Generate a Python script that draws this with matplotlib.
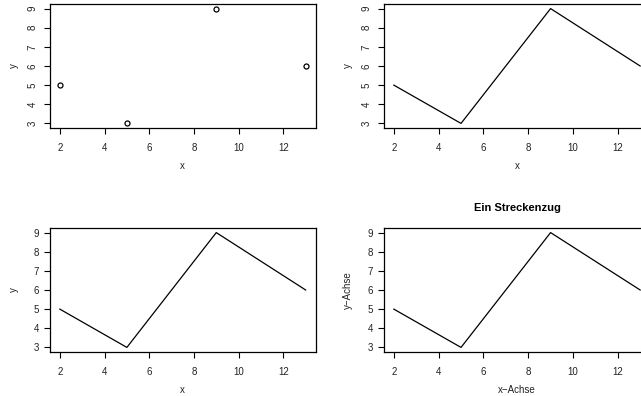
import matplotlib
matplotlib.use("Agg")
import matplotlib.pyplot as plt

x = [2, 5, 9, 13]
y = [5, 3, 9, 6]
x_ticks = [2, 4, 6, 8, 10, 12]
y_ticks = [3, 4, 5, 6, 7, 8, 9]

plt.rcParams['font.family'] = ['Liberation Sans', 'DejaVu Sans']
plt.rcParams['font.size'] = 7

W, H = 641, 396
fig = plt.figure(figsize=(W / 100, H / 100), dpi=100)


def panel(left, top, right, bottom):
    return fig.add_axes([left / W, 1 - bottom / H, (right - left) / W, (bottom - top) / H])


def style(ax, rotated_y, xlabel, ylabel):
    pad_x = 0.04 * (max(x) - min(x))
    pad_y = 0.04 * (max(y) - min(y))
    ax.set_xlim(min(x) - pad_x, max(x) + pad_x)
    ax.set_ylim(min(y) - pad_y, max(y) + pad_y)
    ax.set_xticks(x_ticks)
    ax.set_yticks(y_ticks)
    for s in ax.spines.values():
        s.set_linewidth(0.9)
        s.set_color('black')
    ax.tick_params(direction='out', length=4.3, width=0.8, color='black',
                   labelcolor='#222222')
    ax.tick_params(axis='x', pad=6.5)
    if rotated_y:
        ax.tick_params(axis='y', labelrotation=90, pad=4.5)
        for lab in ax.get_yticklabels():
            lab.set_va('center')
    else:
        ax.tick_params(axis='y', pad=3.5)
    ax.set_xlabel(xlabel, color='#222222')
    ax.set_ylabel(ylabel, color='#222222')
    ax.xaxis.set_label_coords(0.5, -0.265)
    ax.yaxis.set_label_coords(-0.118, 0.5)


# top left: points only
ax1 = panel(50, 4, 315.5, 128)
ax1.plot(x, y, linestyle='none', marker='o', markersize=3.6,
         markerfacecolor='none', markeredgecolor='black', markeredgewidth=0.9)
style(ax1, True, 'x', 'y')

# top right: polyline
ax2 = panel(384, 4, 650, 128)
ax2.plot(x, y, color='black', linewidth=0.9)
style(ax2, True, 'x', 'y')

# bottom left: polyline with horizontal y labels
ax3 = panel(50, 228, 315.5, 352)
ax3.plot(x, y, color='black', linewidth=0.9)
style(ax3, False, 'x', 'y')

# bottom right: titled polyline with axis names
ax4 = panel(384, 228, 650, 352)
ax4.plot(x, y, color='black', linewidth=0.9)
style(ax4, False, 'x\u2212Achse', 'y\u2212Achse')
ax4.set_title('Ein Streckenzug', fontsize=8, fontweight='bold', pad=12)

fig.savefig('out.png', dpi=100)
